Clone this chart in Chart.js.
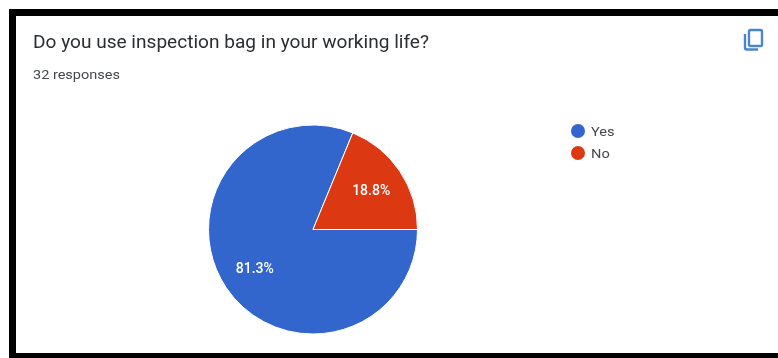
<!DOCTYPE html>
<html lang="en">
<head>
    <meta charset="UTF-8">
    <title>Survey Response</title>
    <script src="https://cdn.jsdelivr.net/npm/chart.js"></script>
    <style>
        html, body { margin: 0; padding: 0; background: #fff; overflow: hidden; }
        #card { position: relative; width: 778px; height: 358px; font-family: Roboto, sans-serif; overflow: hidden; }
        #frame { position: absolute; left: 9px; top: 9px; width: 800px; height: 337px; border: 7px solid #000; }
        #surveyChart { position: absolute; left: 0; top: 0; }
        #question { position: absolute; left: 33px; top: 31px; font-size: 18px; color: #2b2e31; white-space: nowrap; transform: scaleX(1.06); transform-origin: left; }
        #count { position: absolute; left: 33px; top: 67px; font-size: 13px; color: #45484c; white-space: nowrap; transform: scaleX(1.115); transform-origin: left; }
        #copyIcon { position: absolute; left: 743px; top: 28px; }
        #legend { position: absolute; left: 571px; top: 120px; font-size: 13px; color: #45484c; }
        .entry { display: flex; align-items: center; height: 22px; }
        .dot { width: 14px; height: 14px; border-radius: 50%; margin-right: 6px; }
        .name { transform: scaleX(1.12); transform-origin: left; }
    </style>
</head>
<body>
    <div id="card">
        <div id="frame"></div>
        <canvas id="surveyChart" width="778" height="358"></canvas>
        <div id="question"></div>
        <div id="count"></div>
        <svg id="copyIcon" width="22" height="24" viewBox="0 0 22 24" fill="none" stroke="#4a86c8" stroke-width="2.4">
            <rect x="6" y="2" width="13" height="16" rx="1.5"/>
            <path d="M2 6v13.5a2 2 0 0 0 2 2h11"/>
        </svg>
        <div id="legend"></div>
    </div>

    <script>
        const question = 'Do you use inspection bag in your working life?';
        const responses = '32 responses';
        const answers = ['Yes', 'No'];
        const shares = [81.3, 18.8];
        const colors = ['#3366cc', '#dc3912'];

        document.getElementById('question').textContent = question;
        document.getElementById('count').textContent = responses;

        // Legend entries
        const legend = document.getElementById('legend');
        answers.forEach((answer, i) => {
            const entry = document.createElement('div');
            entry.className = 'entry';
            const dot = document.createElement('span');
            dot.className = 'dot';
            dot.style.background = colors[i];
            const name = document.createElement('span');
            name.className = 'name';
            name.textContent = answer;
            entry.appendChild(dot);
            entry.appendChild(name);
            legend.appendChild(entry);
        });

        // Percent text on top of each slice
        const sliceLabels = {
            id: 'sliceLabels',
            afterDatasetsDraw(chart) {
                const ctx = chart.ctx;
                ctx.save();
                ctx.fillStyle = '#fff';
                ctx.font = '500 14px Roboto, sans-serif';
                ctx.textAlign = 'center';
                ctx.textBaseline = 'middle';
                chart.getDatasetMeta(0).data.forEach((arc, i) => {
                    const mid = (arc.startAngle + arc.endAngle) / 2;
                    const r = arc.outerRadius * 0.67;
                    ctx.fillText(shares[i].toFixed(1) + '%', arc.x + Math.cos(mid) * r, arc.y + Math.sin(mid) * r + 1);
                });
                ctx.restore();
            }
        };

        new Chart(document.getElementById('surveyChart').getContext('2d'), {
            type: 'pie',
            data: {
                labels: answers,
                datasets: [{
                    data: shares,
                    backgroundColor: colors,
                    borderColor: '#fff',
                    borderWidth: 1
                }]
            },
            options: {
                responsive: false,
                animation: false,
                rotation: 90,
                layout: { padding: { left: 208, right: 360, top: 124, bottom: 23 } },
                plugins: {
                    legend: { display: false },
                    tooltip: { enabled: false }
                }
            },
            plugins: [sliceLabels]
        });
    </script>
</body>
</html>
